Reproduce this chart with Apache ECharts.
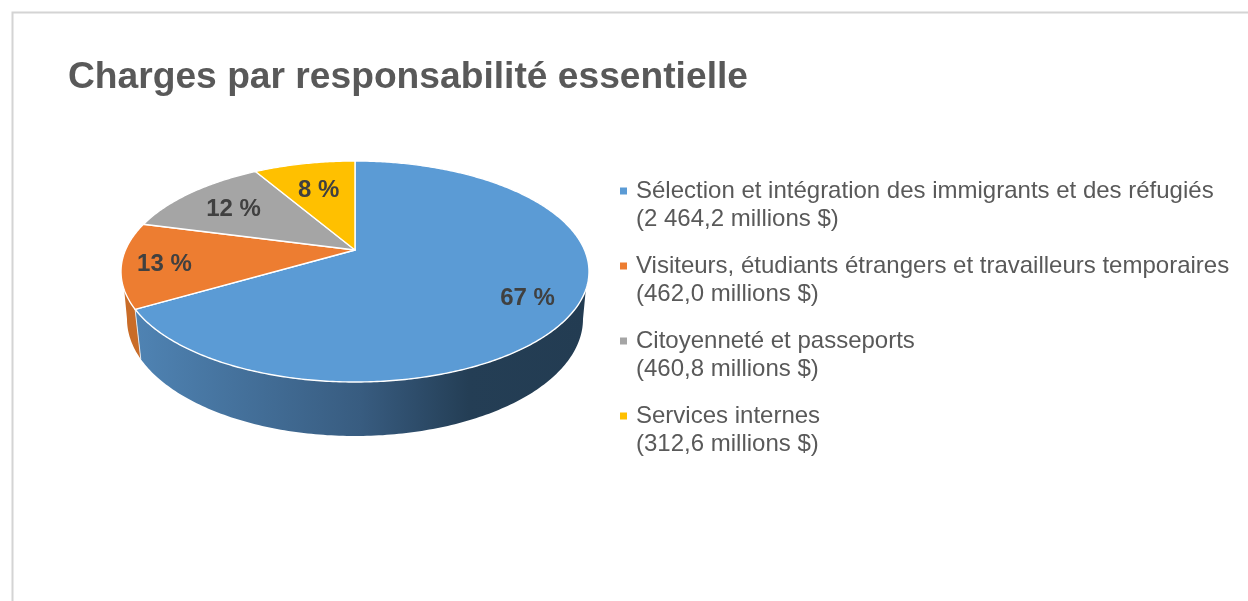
<!DOCTYPE html>
<html lang="fr">
<head>
<meta charset="utf-8">
<title>Charges par responsabilité essentielle</title>
<script src="https://cdn.jsdelivr.net/npm/echarts@6/dist/echarts.min.js"></script>
<style>
  html, body { margin: 0; padding: 0; background: #fff; }
  #chart { width: 1248px; height: 601px; }
</style>
</head>
<body>
<div id="chart"></div>
<script>
// Charges in millions of dollars, one entry per core responsibility.
const categories = [
  'Sélection et intégration des immigrants et des réfugiés',
  'Visiteurs, étudiants étrangers et travailleurs temporaires',
  'Citoyenneté et passeports',
  'Services internes'
];
const chargeValues = [2464.2, 462.0, 460.8, 312.6];
const amountLabels = ['2 464,2', '462,0', '460,8', '312,6'];
const percentLabels = ['67 %', '13 %', '12 %', '8 %'];

const topColors = ['#5b9bd5', '#ed7d31', '#a5a5a5', '#ffc000'];
const labelRadius = [0.8, 0.82, 0.72, 0.68];

// Tilted disc: a homography carries the unit circle onto the top ellipse,
// sending the pie's centre to the apex where the slices meet.
const cx = 355, apexY = 250, topBack = 161, topFront = 382, rx = 234;
const topCy = (topBack + topFront) / 2, topRy = (topFront - topBack) / 2;
const persp = (2 * apexY - topBack - topFront) / (topFront - topBack);
const rise = (topFront * (1 + persp) - topBack * (1 - persp)) / 2;
const spread = rx * Math.sqrt(1 - persp * persp);

// Lower rim of the disc wall and the arc of the top edge that the wall hangs from.
const rimCy = 319, rimRx = 228, rimRy = 117;
const wallFrom = 9.5, wallTo = 170.5;

const total = chargeValues.reduce((a, b) => a + b, 0);

function project(theta, r) {
  const u = r * Math.sin(theta), v = -r * Math.cos(theta);
  const w = 1 + persp * v;
  return [cx + spread * u / w, (rise * v + apexY) / w];
}
function rimAngle(theta) {
  const p = project(theta, 1);
  let deg = Math.atan2((p[1] - topCy) / topRy, (p[0] - cx) / rx) * 180 / Math.PI;
  if (deg < -90) deg += 360;
  return deg;
}
function onTop(deg) {
  const a = deg * Math.PI / 180;
  return [cx + rx * Math.cos(a), topCy + topRy * Math.sin(a)];
}
function onRim(deg) {
  const a = deg * Math.PI / 180;
  return [cx + rimRx * Math.cos(a), rimCy + rimRy * Math.sin(a)];
}
function sweep(from, to, fn) {
  const pts = [], n = Math.max(2, Math.ceil(Math.abs(to - from)));
  for (let i = 0; i <= n; i++) pts.push(fn(from + (to - from) * i / n));
  return pts;
}

const wallFills = [
  { type: 'linear', x: 0, y: 0, x2: 1, y2: 0, colorStops: [
    { offset: 0, color: '#4f83b3' },
    { offset: 0.5, color: '#385c80' },
    { offset: 0.62, color: '#2e4d6b' },
    { offset: 0.74, color: '#243e55' },
    { offset: 1, color: '#233c52' }
  ] },
  '#c96c28', '#a5a5a5', '#ffc000'
];

function sliceRenderer(index) {
  return function (params, api) {
    const before = chargeValues.slice(0, index).reduce((a, b) => a + b, 0);
    const start = before / total * 2 * Math.PI;
    const end = (before + api.value(0)) / total * 2 * Math.PI;
    const children = [];

    const from = Math.max(rimAngle(start), wallFrom);
    const stop = rimAngle(end);
    const to = Math.min(stop, wallTo);
    if (to > from) {
      // At the silhouette the lower rim runs out to its own extreme points.
      const lowFrom = from === wallFrom ? 0 : from;
      const lowTo = to === wallTo ? 180 : to;
      const wall = sweep(from, to, onTop).concat(sweep(lowTo, lowFrom, onRim));
      children.push({
        type: 'polygon', z2: 0,
        shape: { points: wall },
        style: { fill: wallFills[index], stroke: null }
      });
      if (stop <= wallTo) {
        children.push({
          type: 'line', z2: 3,
          shape: { x1: onTop(stop)[0], y1: onTop(stop)[1], x2: onRim(stop)[0], y2: onRim(stop)[1] },
          style: { stroke: '#dfe7ef', lineWidth: 1 }
        });
      }
    }

    const rim = [];
    const steps = Math.ceil((end - start) * 90);
    for (let i = 0; i <= steps; i++) rim.push(project(start + (end - start) * i / steps, 1));
    children.push({
      type: 'polygon', z2: 5,
      shape: { points: [project(0, 0)].concat(rim) },
      style: { fill: topColors[index], stroke: '#ffffff', lineWidth: 1.4, lineJoin: 'round' }
    });

    const at = project((start + end) / 2, labelRadius[index]);
    children.push({
      type: 'text', z2: 10, x: at[0], y: at[1] + 2,
      style: {
        text: percentLabels[index], align: 'center', verticalAlign: 'middle',
        fill: '#404040', font: 'bold 24px "Liberation Sans", Arial, sans-serif'
      }
    });
    return { type: 'group', children };
  };
}

const chart = echarts.init(document.getElementById('chart'), null, { renderer: 'canvas' });
chart.setOption({
  animation: false,
  backgroundColor: '#ffffff',
  title: {
    text: 'Charges par responsabilité essentielle',
    left: 68, top: 59, padding: 0,
    textStyle: { color: '#595959', fontFamily: '"Liberation Sans", Arial, sans-serif', fontWeight: 'bold', fontSize: 37.2 }
  },
  legend: {
    orient: 'vertical',
    left: 620, top: 149, padding: 0,
    selectedMode: false,
    icon: 'rect',
    itemWidth: 7, itemHeight: 7,
    itemGap: -9,
    data: categories,
    // The blank first line keeps each marker level with the name, not the block's middle.
    formatter: name => '\n' + name + '\n(' + amountLabels[categories.indexOf(name)] + ' millions $)',
    textStyle: {
      color: '#595959', fontFamily: '"Liberation Sans", Arial, sans-serif',
      fontSize: 24, lineHeight: 28, padding: [0, 0, 0, 4]
    }
  },
  graphic: [{
    type: 'polyline', silent: true,
    shape: { points: [[12.5, 620], [12.5, 12.5], [1260, 12.5]] },
    style: { stroke: '#d4d4d4', lineWidth: 2, fill: null }
  }],
  series: categories.map((name, i) => ({
    type: 'custom',
    name,
    coordinateSystem: 'none',
    silent: true,
    itemStyle: { color: topColors[i] },
    data: [[chargeValues[i]]],
    renderItem: sliceRenderer(i)
  }))
});
</script>
</body>
</html>
